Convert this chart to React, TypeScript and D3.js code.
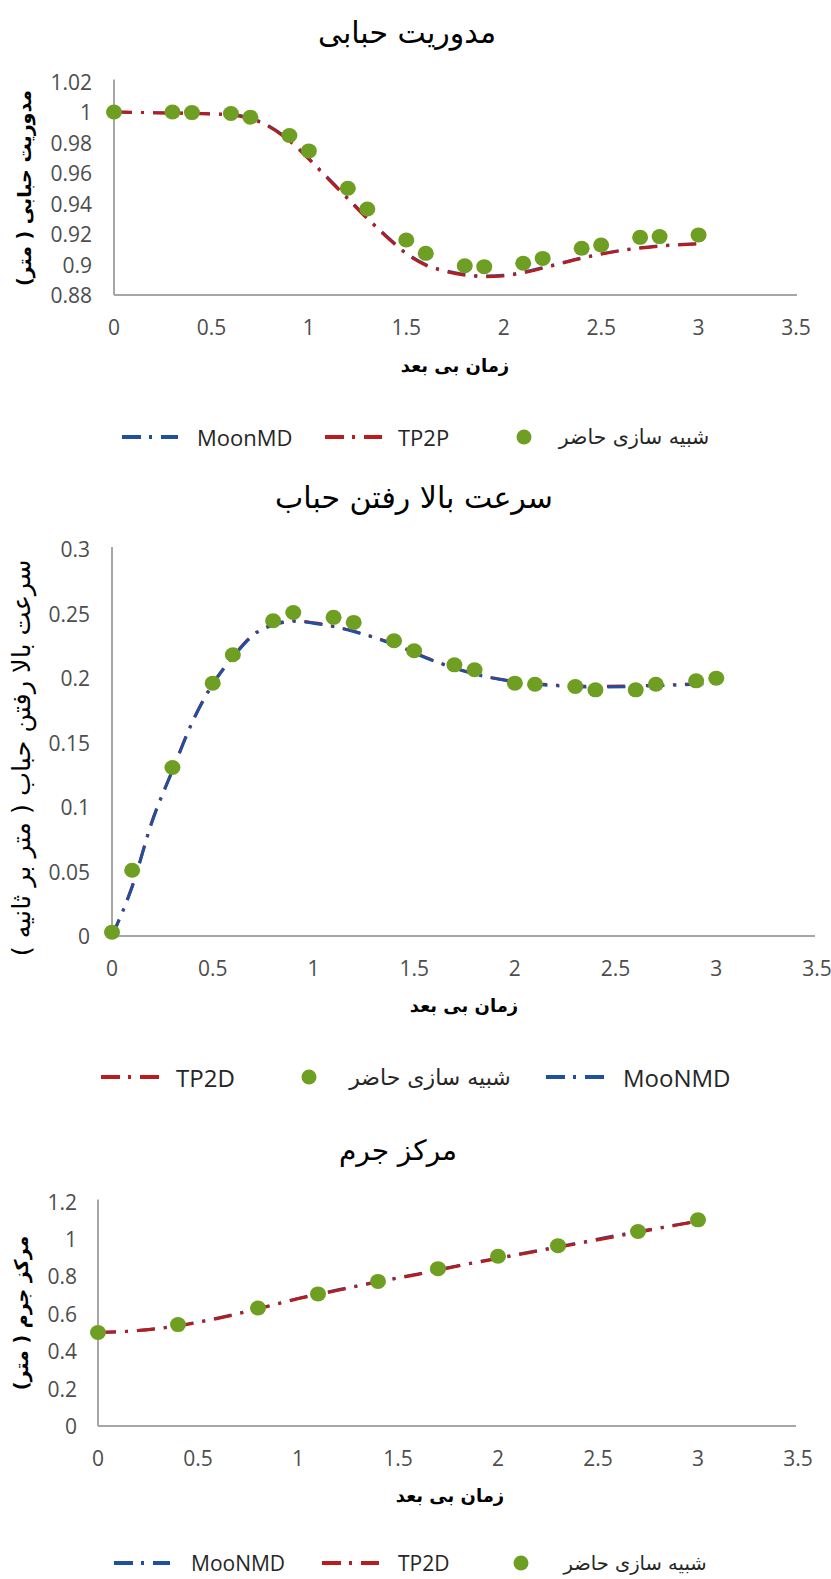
import React from "react";
import * as d3 from "d3";

// ---------- Chart 1: مدوریت حبابی ----------
const c1PointsX = [0, 0.3, 0.4, 0.6, 0.7, 0.9, 1.0, 1.2, 1.3, 1.5, 1.6, 1.8, 1.9, 2.1, 2.2, 2.4, 2.5, 2.7, 2.8, 3.0];
const c1PointsY = [1.0, 1.0, 0.9996, 0.999, 0.9966, 0.9846, 0.9745, 0.950, 0.9364, 0.9161, 0.9073, 0.8992, 0.8986, 0.9008, 0.904, 0.9106, 0.9128, 0.9178, 0.9183, 0.9194];
const c1LineX = [0, 0.2, 0.4, 0.6, 0.7, 0.8, 0.9, 1.0, 1.1, 1.2, 1.3, 1.4, 1.5, 1.6, 1.7, 1.8, 1.9, 2.0, 2.1, 2.2, 2.4, 2.6, 2.8, 3.0];
const c1TP2P = [1.0, 0.9995, 0.999, 0.998, 0.9955, 0.990, 0.981, 0.969, 0.956, 0.943, 0.930, 0.918, 0.907, 0.8995, 0.8955, 0.893, 0.892, 0.8925, 0.8945, 0.8975, 0.904, 0.909, 0.912, 0.9135];
const c1MoonMD = [1.0, 0.9995, 0.9992, 0.9983, 0.996, 0.9905, 0.9815, 0.9695, 0.9565, 0.9435, 0.9305, 0.9185, 0.9075, 0.9, 0.896, 0.8935, 0.8925, 0.893, 0.895, 0.898, 0.9043, 0.9093, 0.9123, 0.9137];
const c1YTicks = [0.88, 0.9, 0.92, 0.94, 0.96, 0.98, 1.0, 1.02];

// ---------- Chart 2: سرعت بالا رفتن حباب ----------
const c2PointsX = [0, 0.1, 0.3, 0.5, 0.6, 0.8, 0.9, 1.1, 1.2, 1.4, 1.5, 1.7, 1.8, 2.0, 2.1, 2.3, 2.4, 2.6, 2.7, 2.9, 3.0];
const c2PointsY = [0.003, 0.051, 0.1306, 0.196, 0.218, 0.2444, 0.2508, 0.247, 0.2431, 0.2289, 0.2211, 0.2102, 0.2064, 0.196, 0.1952, 0.1934, 0.1908, 0.1908, 0.1952, 0.1978, 0.1999];
const c2LineX = [0, 0.1, 0.2, 0.3, 0.4, 0.5, 0.6, 0.7, 0.8, 0.9, 1.0, 1.2, 1.4, 1.6, 1.8, 2.0, 2.2, 2.4, 2.6, 2.8, 3.0];
const c2MooNMD = [0, 0.038, 0.089, 0.128, 0.166, 0.195, 0.216, 0.233, 0.241, 0.244, 0.2425, 0.236, 0.226, 0.213, 0.203, 0.197, 0.194, 0.193, 0.1935, 0.1945, 0.196];
const c2TP2D = [0, 0.0385, 0.0895, 0.1285, 0.1665, 0.1955, 0.2165, 0.2335, 0.2415, 0.2443, 0.2428, 0.2363, 0.2263, 0.2133, 0.2033, 0.1973, 0.1945, 0.1935, 0.194, 0.1948, 0.1962];
const c2YTicks = [0, 0.05, 0.1, 0.15, 0.2, 0.25, 0.3];

// ---------- Chart 3: مرکز جرم ----------
const c3PointsX = [0, 0.4, 0.8, 1.1, 1.4, 1.7, 2.0, 2.3, 2.7, 3.0];
const c3PointsY = [0.5, 0.542, 0.631, 0.706, 0.773, 0.841, 0.907, 0.964, 1.04, 1.102];
const c3LineX = [0, 0.2, 0.4, 0.6, 0.8, 1.0, 1.2, 1.4, 1.6, 1.8, 2.0, 2.2, 2.4, 2.6, 2.8, 3.0];
const c3TP2D = [0.5, 0.51, 0.535, 0.575, 0.625, 0.68, 0.725, 0.77, 0.81, 0.855, 0.895, 0.935, 0.975, 1.015, 1.055, 1.095];
const c3MooNMD = [0.5, 0.51, 0.537, 0.578, 0.628, 0.682, 0.728, 0.772, 0.813, 0.857, 0.898, 0.938, 0.978, 1.02, 1.058, 1.095];
const c3YTicks = [0, 0.2, 0.4, 0.6, 0.8, 1.0, 1.2];

const xTicks = [0, 0.5, 1, 1.5, 2, 2.5, 3, 3.5];

const titles = ["مدوریت حبابی", "سرعت بالا رفتن حباب", "مرکز جرم"];
const yTitles = ["مدوریت حبابی ( متر)", "سرعت بالا رفتن حباب ( متر بر ثانیه )", "مرکز جرم ( متر)"];
const xTitle = "زمان بی بعد";
const simLabel = "شبیه سازی حاضر";

const GREEN = "#6e9f22";
const RED = "#b81c1c";
const BLUE = "#1f4f9f";
const AXIS = "#a6a6a6";
const TICK = "#4d4d4d";
const LATIN = "'Open Sans', sans-serif";
const ARABIC = "'DejaVu Sans', sans-serif";
const DASH = "18,9,3,9";

type Series = { xs: number[]; ys: number[]; color: string };

function Chart(props: {
  xRange: [number, number];
  yDomain: [number, number];
  yRange: [number, number];
  yTicks: number[];
  yLabelX: number;
  xLabelY: number;
  axisEnd: number;
  title: string;
  titlePos: [number, number];
  titleSize: number;
  xTitlePos: [number, number];
  yTitle: string;
  yTitlePos: [number, number];
  yTitleBold: boolean;
  yTitleSize: number;
  lines: Series[];
  px: number[];
  py: number[];
}) {
  const x = d3.scaleLinear().domain([0, 3.5]).range(props.xRange);
  const y = d3.scaleLinear().domain(props.yDomain).range(props.yRange);
  const line = d3
    .line<[number, number]>()
    .x((d) => x(d[0]))
    .y((d) => y(d[1]))
    .curve(d3.curveMonotoneX);
  const y0 = y(props.yDomain[0]);
  const yTop = y(props.yDomain[1]);
  const x0 = x(0);
  return (
    <g>
      <text x={props.titlePos[0]} y={props.titlePos[1]} fontFamily={ARABIC} fontSize={props.titleSize} fill="#000" textAnchor="middle" dominantBaseline="central">
        {props.title}
      </text>
      <line x1={x0} x2={x0} y1={yTop - 2} y2={y0} stroke={AXIS} strokeWidth={2} />
      <line x1={x0} x2={props.axisEnd} y1={y0} y2={y0} stroke={AXIS} strokeWidth={2} />
      {props.yTicks.map((t) => (
        <text key={"y" + t} x={props.yLabelX} y={y(t)} fontFamily={LATIN} fontSize={21} fill={TICK} textAnchor="end" dominantBaseline="central">
          {d3.format("~g")(t)}
        </text>
      ))}
      {xTicks.map((t) => (
        <text key={"x" + t} x={x(t)} y={props.xLabelY} fontFamily={LATIN} fontSize={21} fill={TICK} textAnchor="middle" dominantBaseline="central">
          {d3.format("~g")(t)}
        </text>
      ))}
      <text x={props.xTitlePos[0]} y={props.xTitlePos[1]} fontFamily={ARABIC} fontWeight="bold" fontSize={18} fill="#000" textAnchor="middle" dominantBaseline="central">
        {xTitle}
      </text>
      <text
        transform={`translate(${props.yTitlePos[0]},${props.yTitlePos[1]}) rotate(-90)`}
        fontFamily={ARABIC}
        fontWeight={props.yTitleBold ? "bold" : "normal"}
        fontSize={props.yTitleSize}
        fill="#000"
        textAnchor="middle"
        dominantBaseline="central"
      >
        {props.yTitle}
      </text>
      {props.lines.map((s, i) => (
        <path
          key={"l" + i}
          d={line(s.xs.map((v, j) => [v, s.ys[j]] as [number, number])) || ""}
          fill="none"
          stroke={s.color}
          strokeWidth={3}
          strokeDasharray={DASH}
        />
      ))}
      {props.px.map((v, i) => (
        <ellipse key={"p" + i} cx={x(v)} cy={y(props.py[i])} rx={8} ry={7.5} fill={GREEN} />
      ))}
    </g>
  );
}

type LegendItem = { kind: "line" | "dot"; color: string; x0: number; x1: number; label: string; labelX: number; arabic: boolean };

function Legend(props: { y: number; items: LegendItem[]; size: number; arSize: number }) {
  return (
    <g>
      {props.items.map((it, i) => (
        <g key={i}>
          {it.kind === "line" ? (
            <line x1={it.x0} x2={it.x1} y1={props.y} y2={props.y} stroke={it.color} strokeWidth={4} strokeDasharray="19,8,3,9" />
          ) : (
            <ellipse cx={it.x0} cy={props.y} rx={7.5} ry={7.5} fill={it.color} />
          )}
          <text
            x={it.labelX}
            y={props.y}
            fontFamily={it.arabic ? ARABIC : LATIN}
            fontSize={it.arabic ? props.arSize : props.size}
            fill="#262626"
            textAnchor={it.arabic ? "middle" : "start"}
            dominantBaseline="central"
          >
            {it.label}
          </text>
        </g>
      ))}
    </g>
  );
}

export default function App() {
  return (
    <svg width={831} height={1579} style={{ position: "absolute", left: 0, top: 0, background: "#fff" }}>
      <rect width={831} height={1579} fill="#fff" />
      <Chart
        xRange={[114, 796]}
        yDomain={[0.88, 1.02]}
        yRange={[295, 81.5]}
        yTicks={c1YTicks}
        yLabelX={92}
        xLabelY={327}
        axisEnd={797}
        title={titles[0]}
        titlePos={[407, 32]}
        titleSize={30}
        xTitlePos={[455, 365]}
        yTitle={yTitles[0]}
        yTitlePos={[24, 188]}
        yTitleBold={true}
        yTitleSize={19}
        lines={[
          { xs: c1LineX, ys: c1MoonMD, color: BLUE },
          { xs: c1LineX, ys: c1TP2P, color: RED },
        ]}
        px={c1PointsX}
        py={c1PointsY}
      />
      <Legend
        y={437}
        size={22}
        arSize={20.5}
        items={[
          { kind: "line", color: BLUE, x0: 122, x1: 178, label: "MoonMD", labelX: 197, arabic: false },
          { kind: "line", color: RED, x0: 325, x1: 382, label: "TP2P", labelX: 398, arabic: false },
          { kind: "dot", color: GREEN, x0: 524, x1: 524, label: simLabel, labelX: 634, arabic: true },
        ]}
      />
      <Chart
        xRange={[112, 817]}
        yDomain={[0, 0.3]}
        yRange={[936, 549]}
        yTicks={c2YTicks}
        yLabelX={90}
        xLabelY={968}
        axisEnd={815}
        title={titles[1]}
        titlePos={[414, 497]}
        titleSize={30}
        xTitlePos={[464, 1005]}
        yTitle={yTitles[1]}
        yTitlePos={[21, 758]}
        yTitleBold={false}
        yTitleSize={25.5}
        lines={[
          { xs: c2LineX, ys: c2TP2D, color: RED },
          { xs: c2LineX, ys: c2MooNMD, color: BLUE },
        ]}
        px={c2PointsX}
        py={c2PointsY}
      />
      <Legend
        y={1077}
        size={24}
        arSize={22}
        items={[
          { kind: "line", color: RED, x0: 101, x1: 160, label: "TP2D", labelX: 176, arabic: false },
          { kind: "dot", color: GREEN, x0: 309, x1: 309, label: simLabel, labelX: 430, arabic: true },
          { kind: "line", color: BLUE, x0: 546, x1: 605, label: "MooNMD", labelX: 623, arabic: false },
        ]}
      />
      <Chart
        xRange={[98, 798]}
        yDomain={[0, 1.2]}
        yRange={[1426, 1201.5]}
        yTicks={c3YTicks}
        yLabelX={77}
        xLabelY={1458}
        axisEnd={796}
        title={titles[2]}
        titlePos={[398, 1150]}
        titleSize={28}
        xTitlePos={[450, 1495]}
        yTitle={yTitles[2]}
        yTitlePos={[21, 1313]}
        yTitleBold={true}
        yTitleSize={19}
        lines={[
          { xs: c3LineX, ys: c3MooNMD, color: BLUE },
          { xs: c3LineX, ys: c3TP2D, color: RED },
        ]}
        px={c3PointsX}
        py={c3PointsY}
      />
      <Legend
        y={1563}
        size={21}
        arSize={19.5}
        items={[
          { kind: "line", color: BLUE, x0: 114, x1: 170, label: "MooNMD", labelX: 191, arabic: false },
          { kind: "line", color: RED, x0: 322, x1: 379, label: "TP2D", labelX: 398, arabic: false },
          { kind: "dot", color: GREEN, x0: 521, x1: 521, label: simLabel, labelX: 635, arabic: true },
        ]}
      />
    </svg>
  );
}
